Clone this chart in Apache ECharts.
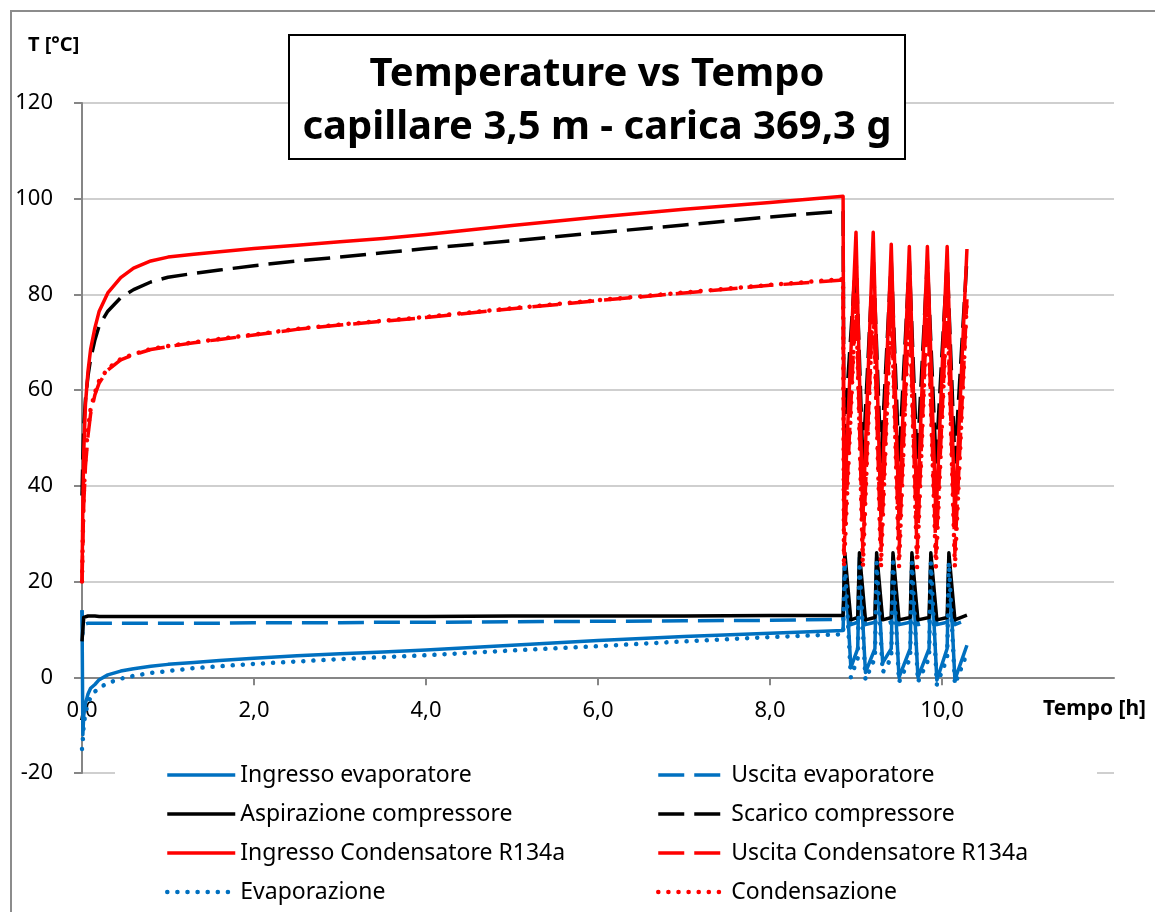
<!DOCTYPE html>
<html>
<head>
<meta charset="utf-8">
<script src="https://cdn.jsdelivr.net/npm/echarts@6/dist/echarts.min.js"></script>
<style>
  html, body { margin: 0; padding: 0; background: #fff; }
  #chart { width: 1155px; height: 912px; }
</style>
</head>
<body>
<div id="chart"></div>
<script>
// -- data: warm-up phase (shared time axis, h) --
const tempo = [0, 0.01, 0.02, 0.04, 0.07, 0.1, 0.15, 0.2, 0.3, 0.45, 0.6, 0.8, 1, 1.3, 1.6, 2, 2.5, 3, 3.5, 4, 5, 6, 7, 8, 8.85];

const ingressoEvap  = [14, -12, -8, -5.5, -3.5, -2.3, -1.5, -0.5, 0.5, 1.3, 1.8, 2.3, 2.7, 3.1, 3.5, 4, 4.5, 4.9, 5.3, 5.7, 6.7, 7.7, 8.5, 9.2, 9.8];
const uscitaEvap    = [14, 9, 11, 11.3, 11.3, 11.3, 11.3, 11.3, 11.3, 11.3, 11.3, 11.3, 11.3, 11.3, 11.3, 11.4, 11.4, 11.4, 11.5, 11.5, 11.6, 11.7, 11.8, 11.9, 12.1];
const aspirazione   = [7.5, 10, 12.5, 12.8, 12.8, 12.8, 12.8, 12.7, 12.7, 12.7, 12.7, 12.7, 12.7, 12.7, 12.7, 12.7, 12.7, 12.7, 12.7, 12.7, 12.8, 12.8, 12.8, 12.9, 12.9];
const scarico       = [38, 46, 52, 58, 63, 66.5, 70.5, 73.5, 76.5, 79.3, 81, 82.6, 83.6, 84.4, 85.1, 86, 87, 87.8, 88.7, 89.6, 91.2, 92.9, 94.5, 96.2, 97.4];
const ingressoCond  = [20, 36, 47, 57, 64, 68.5, 73, 76.5, 80.3, 83.5, 85.5, 87, 87.8, 88.4, 88.9, 89.6, 90.3, 91, 91.7, 92.5, 94.4, 96.2, 97.8, 99.2, 100.5];
const uscitaCond    = [20, 28, 36, 44, 50.5, 55, 59, 61.5, 64.2, 66.3, 67.4, 68.5, 69.1, 69.9, 70.6, 71.5, 72.7, 73.6, 74.4, 75.2, 77, 78.7, 80.3, 81.9, 83];
const evaporazione  = [-15, -13, -10, -7.5, -5.5, -4.2, -3, -2.2, -1.2, -0.3, 0.3, 0.9, 1.3, 1.9, 2.3, 2.8, 3.3, 3.8, 4.2, 4.6, 5.6, 6.5, 7.5, 8.4, 9];
const condensazione = [20, 30, 38, 46, 52, 56, 59.5, 62, 64.5, 66.5, 67.5, 68.6, 69.2, 70, 70.7, 71.6, 72.8, 73.7, 74.5, 75.3, 77.1, 78.8, 80.4, 82, 83.2];

// -- data: on/off cycles, high-pressure side --
const tempoCicliAlta = [8.86, 9.00, 9.08, 9.20, 9.29, 9.41, 9.50, 9.62, 9.71, 9.83, 9.93, 10.06, 10.15, 10.29];
const scaricoCicli       = [50, 88, 45, 88, 45, 87, 45, 87, 45, 87, 45, 87, 45, 87.5];
const ingressoCondCicli  = [34, 93, 33, 93, 33, 90.5, 33, 90, 33, 90, 33, 90, 33, 89.5];
const uscitaCondCicli    = [26, 80, 26, 80, 26, 79, 26, 79, 26, 79, 26, 79, 26, 79];
const condensazioneCicli = [23, 80, 23, 80, 23, 79, 23, 79, 23, 79, 23, 79, 23, 79];

// -- data: on/off cycles, low-pressure side --
const tempoCicliBassa = [8.86, 8.87, 8.94, 9.02, 9.04, 9.11, 9.22, 9.24, 9.31, 9.41, 9.43, 9.50, 9.63, 9.65, 9.72, 9.85, 9.87, 9.94, 10.06, 10.08, 10.15, 10.29];
const ingressoEvapCicli = [10, 25, 2, 6, 25, 1, 6, 25, 3, 6, 25, 0, 6, 25, 0, 6, 25, -0.6, 6, 25, -0.5, 6.7];
const uscitaEvapCicli   = [12, 23, 11, 11.5, 23, 11, 11.5, 23, 11, 11.5, 23, 11, 11.5, 23, 11, 11.5, 23, 11, 11.5, 23, 11, 12];
const aspirazioneCicli  = [13, 26, 12, 12.5, 26, 12, 12.5, 26, 12, 12.5, 26, 12, 12.5, 26, 12, 12.5, 26, 12, 12.5, 26, 12, 13];
const evaporazioneCicli = [9, 24, 0, 4, 24, -0.5, 4, 24, 1, 4, 24, -1, 4, 24, -1, 4, 24, -1.5, 4, 24, -1.5, 5];

const FONT = 'Noto Sans';
const BLU = '#0070C0', ROSSO = '#FF0000', NERO = '#000000';
const DASH = [26, 10], DOT = [0.1, 10];

function punti(t1, v1, t2, v2) {
  return t1.map((t, i) => [t, v1[i]]).concat(t2.map((t, i) => [t, v2[i]]));
}

function serie(name, color, type, width, data) {
  return {
    name: name,
    type: 'line',
    data: data,
    showSymbol: false,
    symbol: 'none',
    smooth: false,
    color: color,
    lineStyle: { color: color, width: width, type: type, cap: type === DOT ? 'round' : 'butt', join: 'round' },
    emphasis: { disabled: true }
  };
}

let series = [
  serie('Ingresso evaporatore', BLU, 'solid', 3.5, punti(tempo, ingressoEvap, tempoCicliBassa, ingressoEvapCicli)),
  serie('Uscita evaporatore', BLU, DASH, 3.5, punti(tempo, uscitaEvap, tempoCicliBassa, uscitaEvapCicli)),
  serie('Aspirazione compressore', NERO, 'solid', 3.5, punti(tempo, aspirazione, tempoCicliBassa, aspirazioneCicli)),
  serie('Scarico compressore', NERO, DASH, 3.5, punti(tempo, scarico, tempoCicliAlta, scaricoCicli)),
  serie('Ingresso Condensatore R134a', ROSSO, 'solid', 3.5, punti(tempo, ingressoCond, tempoCicliAlta, ingressoCondCicli)),
  serie('Uscita Condensatore R134a', ROSSO, DASH, 3.5, punti(tempo, uscitaCond, tempoCicliAlta, uscitaCondCicli)),
  serie('Evaporazione', BLU, DOT, 4.5, punti(tempo, evaporazione, tempoCicliBassa, evaporazioneCicli)),
  serie('Condensazione', ROSSO, DOT, 4.5, punti(tempo, condensazione, tempoCicliAlta, condensazioneCicli))
];

function legenda(left, names) {
  return {
    data: names,
    left: left,
    top: 763,
    orient: 'vertical',
    padding: 0,
    itemWidth: 68,
    itemHeight: 14,
    itemGap: 15,
    selectedMode: false,
    itemStyle: { opacity: 0 },
    lineStyle: { width: 'inherit' },
    textStyle: { fontFamily: FONT, fontSize: 23, color: '#000', lineHeight: 24 }
  };
}

let option = {
  animation: false,
  backgroundColor: '#fff',
  textStyle: { fontFamily: FONT },
  grid: { left: 82, right: 41, top: 103, bottom: 139, containLabel: false },
  xAxis: {
    type: 'value',
    min: 0,
    max: 12,
    interval: 2,
    offset: -95.7,
    axisLine: { onZero: false, lineStyle: { color: '#868686', width: 2 } },
    axisTick: { show: true, length: 8, lineStyle: { color: '#868686', width: 2 } },
    axisLabel: {
      fontFamily: FONT, fontSize: 22, color: '#000', margin: 22, showMaxLabel: false,
      formatter: v => v.toFixed(1).replace('.', ',')
    },
    splitLine: { show: false }
  },
  yAxis: {
    type: 'value',
    min: -20,
    max: 120,
    interval: 20,
    axisLine: { show: true, lineStyle: { color: '#868686', width: 2 } },
    axisTick: { show: true, length: 8, lineStyle: { color: '#868686', width: 2 } },
    axisLabel: { fontFamily: FONT, fontSize: 22, color: '#000', margin: 29 },
    splitLine: { show: true, lineStyle: { color: '#BFBFBF', width: 1.5 } }
  },
  legend: [
    legenda(165, ['Ingresso evaporatore', 'Aspirazione compressore', 'Ingresso Condensatore R134a', 'Evaporazione']),
    legenda(656, ['Uscita evaporatore', 'Scarico compressore', 'Uscita Condensatore R134a', 'Condensazione'])
  ],
  graphic: [
    // chart border
    { type: 'rect', z: 0, shape: { x: 11, y: 11, width: 1200, height: 1000 },
      style: { fill: 'none', stroke: '#8C8C8C', lineWidth: 2 } },
    // legend background
    { type: 'rect', z: 1, shape: { x: 115, y: 760, width: 982, height: 152 }, style: { fill: '#fff' } },
    // title box
    { type: 'rect', z: 10, shape: { x: 289, y: 35, width: 616, height: 124 },
      style: { fill: '#fff', stroke: '#000', lineWidth: 2 } },
    { type: 'text', z: 11, x: 597, y: 75,
      style: { text: 'Temperature vs Tempo', fontFamily: FONT, fontWeight: 'bold', fontSize: 40,
               fill: '#000', align: 'center', verticalAlign: 'middle' } },
    { type: 'text', z: 11, x: 597, y: 128,
      style: { text: 'capillare 3,5 m - carica 369,3 g', fontFamily: FONT, fontWeight: 'bold', fontSize: 40,
               fill: '#000', align: 'center', verticalAlign: 'middle' } },
    // axis names
    { type: 'text', z: 11, x: 28, y: 45,
      style: { text: 'T [°C]', fontFamily: FONT, fontWeight: 'bold', fontSize: 20,
               fill: '#000', align: 'left', verticalAlign: 'middle' } },
    { type: 'text', z: 11, x: 1043, y: 709,
      style: { text: 'Tempo [h]', fontFamily: FONT, fontWeight: 'bold', fontSize: 21,
               fill: '#000', align: 'left', verticalAlign: 'middle' } }
  ],
  series: series
};

let myChart = echarts.init(document.getElementById('chart'));
myChart.setOption(option);
</script>
</body>
</html>
